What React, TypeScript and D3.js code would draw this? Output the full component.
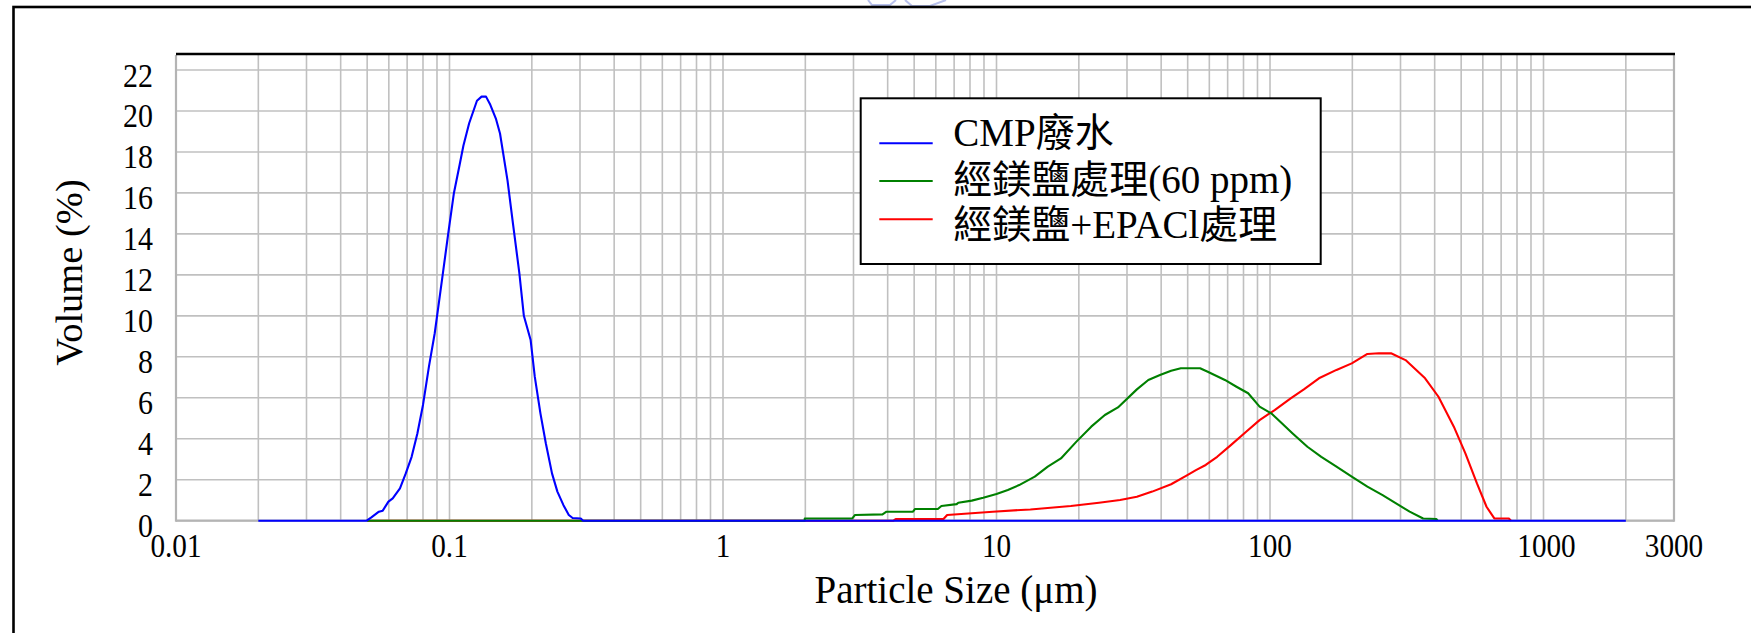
import React from "react";
import * as d3 from "d3";

const xTickLabels = ["0.01", "0.1", "1", "10", "100", "1000", "3000"];
const xTickValues = [0.01, 0.1, 1, 10, 100, 1000, 3000];
const yTickValues = [0, 2, 4, 6, 8, 10, 12, 14, 16, 18, 20, 22];

const seriesNames = ["CMP廢水", "經鎂鹽處理(60 ppm)", "經鎂鹽+EPACl處理"];
const seriesColors = ["#0000ff", "#008000", "#ff0000"];

const blueSize = [0.02, 0.0498, 0.0518, 0.0552, 0.057, 0.0598, 0.062, 0.0659, 0.0692, 0.0727, 0.0763, 0.08, 0.0841, 0.0883, 0.0942, 0.0989, 0.1038, 0.109, 0.1124, 0.118, 0.126, 0.131, 0.136, 0.141, 0.148, 0.153, 0.163, 0.171, 0.18, 0.187, 0.198, 0.205, 0.215, 0.225, 0.237, 0.248, 0.261, 0.273, 0.282, 0.302, 0.308, 2000];
const blueVol = [0, 0, 0.16, 0.44, 0.49, 0.93, 1.09, 1.58, 2.31, 3.12, 4.26, 5.65, 7.52, 9.15, 11.9, 14.0, 16.0, 17.4, 18.3, 19.4, 20.5, 20.7, 20.7, 20.3, 19.6, 18.9, 16.6, 14.4, 12.1, 10.0, 8.82, 7.03, 5.24, 3.78, 2.31, 1.42, 0.76, 0.28, 0.13, 0.11, 0, 0];

const greenSize = [0.05, 1.99, 1.99, 2.97, 3.04, 3.83, 3.96, 4.95, 5.03, 6.1, 6.29, 7.15, 7.25, 8.12, 8.94, 10, 11, 12.1, 13.8, 15.4, 17.2, 19.6, 22.2, 24.9, 27.8, 32.6, 35.9, 39.6, 43.5, 47.2, 55.5, 59.2, 68.4, 75.4, 83.2, 91.6, 101, 109, 121, 137, 154, 175, 199, 227, 258, 289, 324, 363, 406, 410];
const greenVol = [0, 0, 0.11, 0.11, 0.28, 0.31, 0.44, 0.44, 0.57, 0.57, 0.72, 0.81, 0.88, 0.98, 1.12, 1.3, 1.5, 1.74, 2.15, 2.64, 3.04, 3.86, 4.59, 5.16, 5.53, 6.41, 6.87, 7.11, 7.32, 7.44, 7.44, 7.27, 6.87, 6.54, 6.22, 5.57, 5.24, 4.83, 4.26, 3.61, 3.12, 2.64, 2.15, 1.66, 1.25, 0.85, 0.44, 0.11, 0.08, 0];

const redSize = [0.05, 4.2, 4.28, 6.4, 6.6, 9.69, 13.3, 18.7, 23.7, 28.3, 32.6, 37.1, 43.5, 49.5, 53.6, 58.2, 64.1, 71.9, 81.8, 91.6, 104, 119, 133, 151, 175, 199, 227, 250, 277, 313, 369, 413, 470, 518, 571, 619, 661, 747, 760];
const redVol = [0, 0, 0.08, 0.08, 0.28, 0.44, 0.55, 0.72, 0.88, 1.01, 1.17, 1.42, 1.78, 2.2, 2.47, 2.72, 3.12, 3.69, 4.34, 4.91, 5.4, 5.97, 6.41, 6.95, 7.36, 7.68, 8.14, 8.17, 8.17, 7.84, 6.95, 6.05, 4.59, 3.29, 1.82, 0.68, 0.11, 0.11, 0];

const W = 1751;
const H = 633;
const plotL = 176;
const plotR = 1674;
const plotT = 55;
const plotB = 520.7;
const yMax = 22 + (70 - plotT) / ((plotB - 70) / 22);

const LATIN = "'Liberation Serif', 'Times New Roman', serif";
const MIXED = "'Liberation Serif', 'Noto Sans CJK TC', serif";

export default function App() {
  const x = d3.scaleLog().domain([0.01, 3000]).range([plotL, plotR]);
  const y = d3.scaleLinear().domain([0, yMax]).range([plotB, plotT]);

  const gridX: number[] = [];
  for (let e = -2; e <= 3; e++) {
    for (let k = 1; k <= 9; k++) {
      const v = k * Math.pow(10, e);
      if (v <= 3000) gridX.push(v);
    }
  }

  const line = d3
    .line<[number, number]>()
    .x((d) => x(d[0]))
    .y((d) => y(d[1]));

  const zip = (a: number[], b: number[]) => a.map((v, i) => [v, b[i]] as [number, number]);
  const series = [
    { pts: zip(redSize, redVol), color: seriesColors[2] },
    { pts: zip(greenSize, greenVol), color: seriesColors[1] },
    { pts: zip(blueSize, blueVol), color: seriesColors[0] },
  ];

  const legendLineY = [143.3, 181, 219.3];
  const legendTextY = [146, 193, 237.5];

  return (
    <svg
      width={W}
      height={H}
      style={{ position: "absolute", left: 0, top: 0, background: "#fff" }}
    >
      <rect x={0} y={0} width={W} height={H} fill="#fff" />
      {/* faint cropped logo mark at the top */}
      <path d="M868,0 L872,5 L890,5 L896,0 M905,0 L912,6 L930,6 L946,0" fill="none" stroke="#b7c0ec" strokeWidth={2} />
      {/* outer frame */}
      <rect x={13.5} y={7} width={W + 50} height={H + 50} fill="none" stroke="#000" strokeWidth={2.6} />

      {/* grid */}
      {yTickValues.map((v) => (
        <line key={"gy" + v} x1={plotL} x2={plotR} y1={y(v)} y2={y(v)} stroke="#c0c0c0" strokeWidth={1.6} />
      ))}
      {gridX.map((v) => (
        <line key={"gx" + v} x1={x(v)} x2={x(v)} y1={plotT} y2={plotB} stroke="#c0c0c0" strokeWidth={1.6} />
      ))}
      {/* axes frame */}
      <line x1={plotL} x2={plotL} y1={plotT} y2={plotB + 1} stroke="#b4b4b4" strokeWidth={2.2} />
      <line x1={plotL} x2={plotR} y1={plotB} y2={plotB} stroke="#b4b4b4" strokeWidth={2.2} />
      <line x1={plotR} x2={plotR} y1={plotT} y2={plotB + 1} stroke="#b4b4b4" strokeWidth={2.2} />
      <line x1={plotL} x2={plotR + 1} y1={plotT - 1} y2={plotT - 1} stroke="#000" strokeWidth={2.4} />

      {/* series */}
      {series.map((s, i) => (
        <path key={"s" + i} d={line(s.pts) || ""} fill="none" stroke={s.color} strokeWidth={2.1} strokeLinejoin="round" />
      ))}

      {/* y tick labels */}
      {yTickValues.map((v) => (
        <text
          key={"yt" + v}
          transform={`translate(153,${y(v) + 16.5}) scale(0.88,1)`}
          textAnchor="end"
          fontFamily={LATIN}
          fontSize={34}
          fill="#000"
        >
          {v}
        </text>
      ))}
      {/* x tick labels */}
      {xTickValues.map((v, i) => (
        <text
          key={"xt" + v}
          transform={`translate(${x(v) + (v === 1000 ? 3 : 0)},556.5) scale(0.86,1)`}
          textAnchor="middle"
          fontFamily={LATIN}
          fontSize={34}
          fill="#000"
        >
          {xTickLabels[i]}
        </text>
      ))}

      {/* axis titles */}
      <text x={956} y={603} textAnchor="middle" fontFamily={LATIN} fontSize={39} fill="#000">
        Particle Size (μm)
      </text>
      <text
        transform={`translate(82,272.5) rotate(-90)`}
        textAnchor="middle"
        fontFamily={LATIN}
        fontSize={38.5}
        fill="#000"
      >
        Volume (%)
      </text>

      {/* legend */}
      <rect x={860.7} y={98.3} width={460} height={165.7} fill="#fff" stroke="#000" strokeWidth={2} />
      {seriesNames.map((n, i) => (
        <g key={"lg" + i}>
          <line x1={879.3} x2={932.7} y1={legendLineY[i]} y2={legendLineY[i]} stroke={seriesColors[i]} strokeWidth={2} />
          <text x={953.3} y={legendTextY[i]} fontFamily={MIXED} fontSize={39} fill="#000">
            {n}
          </text>
        </g>
      ))}
    </svg>
  );
}
